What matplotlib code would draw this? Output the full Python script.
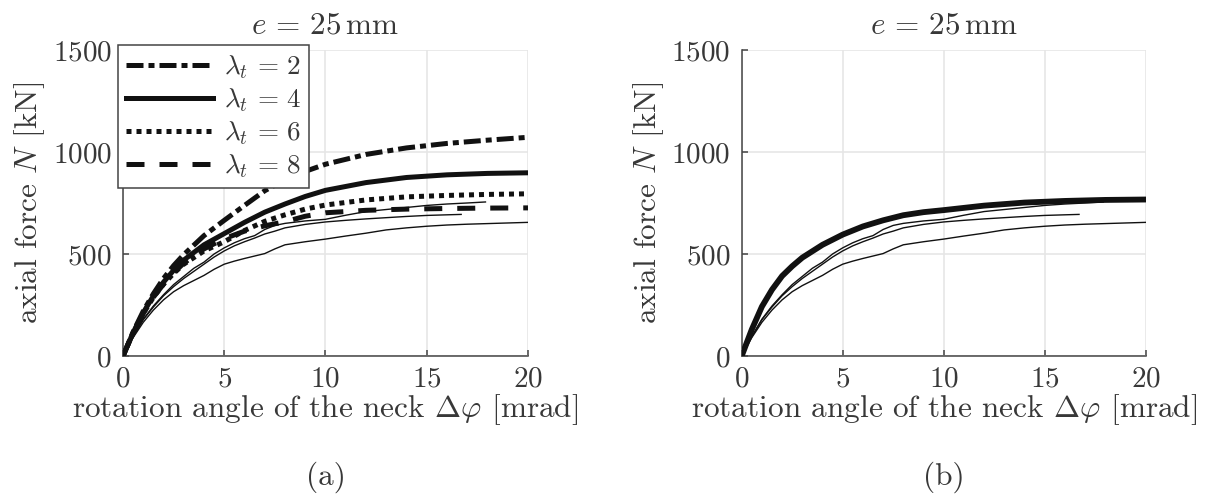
import matplotlib
matplotlib.use('Agg')
import matplotlib.pyplot as plt
import numpy as np

plt.rcParams['font.family'] = ['cmr10', 'DejaVu Serif']
plt.rcParams['mathtext.fontset'] = 'cm'
plt.rcParams['axes.formatter.use_mathtext'] = True

TXT = '#383838'
AX = '#444444'
FS_TICK = 21
FS_LAB = 22.5

# model curves (lambda_t study), left panel
x_model = [0, 0.5, 1, 1.5, 2, 2.5, 3, 4, 5, 6, 7, 8, 9, 10, 12, 14, 16, 18, 20]
n_lam2 = [0, 118, 220, 305, 380, 443, 497, 590, 665, 738, 810, 865, 905, 940, 988, 1020, 1042, 1058, 1072]
n_lam4 = [0, 115, 212, 295, 362, 420, 470, 545, 600, 655, 705, 745, 782, 812, 850, 875, 888, 895, 898]
n_lam6 = [0, 113, 208, 288, 352, 405, 450, 515, 560, 615, 660, 692, 720, 740, 765, 780, 787, 792, 795]
n_lam8 = [0, 113, 208, 288, 352, 408, 455, 525, 575, 612, 638, 658, 685, 702, 714, 720, 723, 725, 726]
lam_labels = [r'$\lambda_t\,=\,2$', r'$\lambda_t\,=\,4$', r'$\lambda_t\,=\,6$', r'$\lambda_t\,=\,8$']

# model curve, right panel
n_right = [0, 130, 242, 325, 392, 440, 482, 545, 595, 635, 665, 690, 705, 715, 737, 752, 760, 765, 767]

# experimental curves (thin lines, both panels)
x_exp1 = [0, 0.5, 1, 1.5, 2, 2.5, 3, 3.5, 4, 4.5, 5, 5.5, 6, 6.5, 7, 7.5, 8, 9, 10,
          11, 12, 13, 14, 15, 16, 17, 18, 19, 20]
n_exp1 = [0, 90, 165, 225, 275, 315, 345, 370, 395, 425, 450, 465, 478, 490, 502, 525,
          545, 560, 573, 588, 602, 618, 628, 636, 642, 646, 649, 652, 655]
x_exp2 = [0, 0.5, 1, 1.5, 2, 2.5, 3, 3.5, 4, 4.5, 5, 5.5, 6, 6.5, 7, 7.5, 8, 9, 10,
          11, 12, 13, 14, 15, 16, 17, 17.9]
n_exp2 = [0, 95, 180, 245, 300, 350, 390, 430, 460, 500, 530, 555, 575, 590, 620, 640,
          650, 662, 670, 690, 708, 718, 728, 738, 745, 750, 755]
x_exp3 = [0, 0.5, 1, 1.5, 2, 2.5, 3, 3.5, 4, 4.5, 5, 5.5, 6, 6.5, 7, 7.5, 8, 9, 10,
          11, 12, 13, 14, 15, 16, 16.7]
n_exp3 = [0, 95, 178, 240, 295, 340, 380, 415, 450, 485, 515, 540, 560, 578, 598, 612,
          628, 645, 657, 665, 672, 678, 684, 689, 692, 694]

title = r'$e\,=\,25\,\mathrm{mm}$'
ylabel = r'axial force $N$ [kN]'
xlabel = r'rotation angle of the neck $\Delta\varphi$ [mrad]'


def style_axes(ax):
    ax.set(xlim=(0, 20), ylim=(0, 1500),
           xticks=np.arange(0, 21, 5), yticks=np.arange(0, 1501, 500))
    ax.grid(True, color='#e6e6e6', lw=1.2)
    ax.set_axisbelow(True)
    for s in ['top', 'right']:
        ax.spines[s].set_visible(False)
    for s in ['left', 'bottom']:
        ax.spines[s].set_color(AX)
        ax.spines[s].set_linewidth(1.1)
    ax.tick_params(direction='in', length=4, width=1.1, color=AX,
                   labelcolor=TXT, labelsize=FS_TICK)
    ax.tick_params(axis='x', pad=7)
    ax.tick_params(axis='y', pad=8)
    ax.set_title(title, color=TXT, fontsize=FS_LAB, pad=12)
    ax.set_ylabel(ylabel, color=TXT, fontsize=FS_LAB, labelpad=4)
    ax.set_xlabel(xlabel, color=TXT, fontsize=FS_LAB, labelpad=0)


def plot_exp(ax):
    for xs, ns in [(x_exp1, n_exp1), (x_exp2, n_exp2), (x_exp3, n_exp3)]:
        ax.plot(xs, ns, color='#111111', lw=1.0, zorder=3)


fig = plt.figure(figsize=(12.06, 4.94), dpi=100)
ax1 = fig.add_axes([0.102, 0.2794, 0.3358, 0.6194])
ax2 = fig.add_axes([0.615, 0.2794, 0.335, 0.6194])

# left panel
plot_exp(ax1)
styles = [(0, (3.4, 1.0, 1.2, 1.0)), '-', (0, (1, 1)), (0, (3.6, 3.0))]
for ns, ls, lab in zip([n_lam2, n_lam4, n_lam6, n_lam8], styles, lam_labels):
    ax1.plot(x_model, ns, color='#111111', lw=3.6, linestyle=ls,
             dash_capstyle='butt', label=lab, zorder=4)
style_axes(ax1)

leg = ax1.legend(loc='upper left', bbox_to_anchor=(118 / 1206, 1 - 45 / 494),
                 bbox_transform=fig.transFigure, borderaxespad=0,
                 handlelength=3.2, labelspacing=0.2, handletextpad=0.4,
                 borderpad=0.3, fancybox=False, framealpha=1,
                 edgecolor=AX, fontsize=19.5)
leg.get_frame().set_linewidth(1.1)
for t in leg.get_texts():
    t.set_color(TXT)

# right panel
plot_exp(ax2)
ax2.plot(x_model, n_right, color='#111111', lw=4.2, zorder=4)
style_axes(ax2)

fig.text(325.5 / 1206, 1 - 477 / 494, '(a)', ha='center', va='center',
         color=TXT, fontsize=FS_LAB)
fig.text(944 / 1206, 1 - 477 / 494, '(b)', ha='center', va='center',
         color=TXT, fontsize=FS_LAB)

fig.savefig('out.png', dpi=100)
